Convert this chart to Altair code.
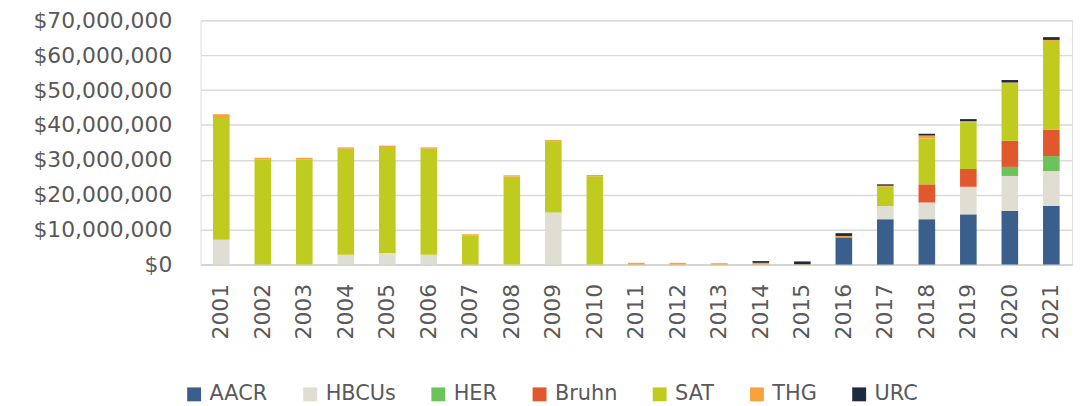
import altair as alt
import pandas as pd

years = [str(y) for y in range(2001, 2022)]
series = ["AACR", "HBCUs", "HER", "Bruhn", "SAT", "THG", "URC"]
colors = ["#3a5f8c", "#e0ddd2", "#6cc35a", "#e0582b", "#bfcb1f", "#f6a33e", "#1d2b3c"]

# values in millions of dollars, one per year 2001..2021
AACR = [0, 0, 0, 0, 0, 0, 0, 0, 0, 0, 0, 0, 0, 0, 0, 7.8, 13.0, 13.0, 14.4, 15.4, 16.8]
HBCUs = [7.1, 0, 0, 2.8, 3.3, 2.8, 0, 0, 14.9, 0, 0, 0, 0, 0, 0, 0, 3.8, 4.8, 7.9, 10.0, 10.0]
HER = [0, 0, 0, 0, 0, 0, 0, 0, 0, 0, 0, 0, 0, 0, 0, 0, 0, 0, 0, 2.6, 4.3]
Bruhn = [0, 0, 0, 0, 0, 0, 0, 0, 0, 0, 0, 0, 0, 0, 0, 0, 0, 5.2, 5.1, 7.5, 7.6]
SAT = [34.9, 30.2, 30.2, 30.4, 30.4, 30.4, 8.3, 25.2, 20.3, 25.3, 0, 0, 0, 0, 0, 0, 5.5, 13.1, 13.4, 16.3, 25.4]
THG = [1.1, 0.4, 0.4, 0.4, 0.4, 0.4, 0.4, 0.4, 0.5, 0.4, 0.5, 0.5, 0.4, 0.5, 0.1, 0.4, 0.3, 0.9, 0.3, 0.4, 0.3]
URC = [0, 0, 0, 0, 0, 0, 0, 0, 0, 0, 0, 0, 0, 0.5, 0.8, 0.8, 0.4, 0.5, 0.6, 0.7, 0.8]

vals = {"AACR": AACR, "HBCUs": HBCUs, "HER": HER, "Bruhn": Bruhn, "SAT": SAT, "THG": THG, "URC": URC}

rows = []
for si, s in enumerate(series):
    for y, v in zip(years, vals[s]):
        if v > 0:
            rows.append({"year": y, "series": s, "order": si, "value": v * 1_000_000})
df = pd.DataFrame(rows)

FONT = "DejaVu Sans"
GRAY = "#595959"

chart = alt.Chart(df).mark_bar().encode(
    x=alt.X("year:N", sort=years,
            scale=alt.Scale(paddingInner=0.6, paddingOuter=0.3),
            axis=alt.Axis(title=None, labelAngle=-90, labelAlign="right", labelBaseline="middle",
                          labelPadding=19, ticks=False, domainColor="#d0d0d0", domainWidth=1.5,
                          labelFontSize=22, labelColor=GRAY, labelFont=FONT)),
    y=alt.Y("value:Q", stack="zero",
            scale=alt.Scale(domain=[0, 70_000_000], nice=False),
            axis=alt.Axis(title=None, values=list(range(0, 70_000_001, 10_000_000)), format="$,.0f",
                          ticks=False, domain=False, gridColor="#d9d9d9", gridWidth=1.5,
                          labelPadding=29, labelFontSize=22, labelColor=GRAY, labelFont=FONT)),
    color=alt.Color("series:N", sort=series,
                    scale=alt.Scale(domain=series, range=colors),
                    legend=alt.Legend(title=None, orient="none", legendX=-17, legendY=366,
                                      direction="horizontal", columns=7, columnPadding=32,
                                      symbolType="square", symbolSize=196, symbolStrokeWidth=0,
                                      labelOffset=5, labelFontSize=21, labelColor=GRAY,
                                      labelFont=FONT, padding=0)),
    order=alt.Order("order:Q", sort="ascending"),
).properties(
    width=878, height=246,
    autosize=alt.AutoSizeParams(type="none"),
    padding={"left": 194, "top": 11, "right": 12, "bottom": 140},
).configure_view(stroke=None).configure(background="white")

chart.save("out.html", embed_options={"renderer": "svg", "actions": False})
